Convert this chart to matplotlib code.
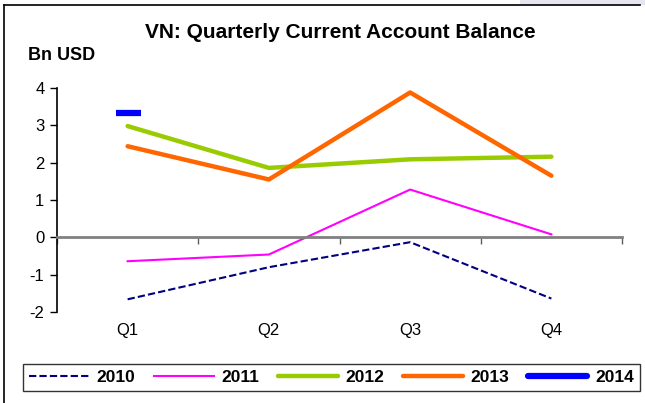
import matplotlib
matplotlib.use("Agg")
import matplotlib.pyplot as plt
import matplotlib.transforms as mtransforms
from matplotlib.lines import Line2D
from matplotlib.patches import Rectangle

plt.rcParams["font.family"] = ["Liberation Sans", "DejaVu Sans"]
plt.rcParams["axes.unicode_minus"] = False

quarters = ["Q1", "Q2", "Q3", "Q4"]
ca_2010 = [-1.66, -0.80, -0.13, -1.64]
ca_2011 = [-0.64, -0.46, 1.28, 0.08]
ca_2012 = [2.98, 1.86, 2.09, 2.16]
ca_2013 = [2.44, 1.55, 3.88, 1.65]
ca_2014 = [3.32]
yticks = [-2, -1, 0, 1, 2, 3, 4]

fig = plt.figure(figsize=(6.45, 4.03), dpi=100)
ax = fig.add_axes([57 / 645, 1 - 312 / 403, 565 / 645, 224 / 403])

x = list(range(1, len(quarters) + 1))
l10, = ax.plot(x, ca_2010, color="#000080", lw=1.5, dashes=(3.5, 1.5), label="2010")
l11, = ax.plot(x, ca_2011, color="#FF00FF", lw=1.5, label="2011")
l12, = ax.plot(x, ca_2012, color="#99CC00", lw=3.2, solid_capstyle="round", label="2012")
l13, = ax.plot(x, ca_2013, color="#FF6600", lw=3.2, solid_capstyle="round", label="2013")
ax.plot(x[:len(ca_2014)], ca_2014, color="#0000FF", lw=0, marker="_", ms=18, mew=4.5)
l14 = Line2D([], [], color="#0000FF", lw=4.5, solid_capstyle="round", label="2014")

ax.set_xlim(0.5, len(quarters) + 0.5)
ax.set_ylim(-2, 4)
ax.set_yticks(yticks)
ax.tick_params(axis="y", direction="out", length=5, width=1, labelsize=12, pad=4)

# category axis crosses at zero; labels sit below the plot area
for s in ["top", "right"]:
    ax.spines[s].set_visible(False)
ax.spines["left"].set_linewidth(1.2)
ax.spines["bottom"].set_position(("data", 0))
ax.spines["bottom"].set_color("#808080")
ax.spines["bottom"].set_linewidth(2)
ax.set_xticks([i + 0.5 for i in range(0, len(quarters) + 1)])
ax.set_xticklabels([])
ax.tick_params(axis="x", direction="out", length=5, width=1, color="#606060")

trans = mtransforms.blended_transform_factory(ax.transData, ax.transAxes)
for xi, q in zip(x, quarters):
    ax.text(xi, -0.05, q, transform=trans, ha="center", va="top", fontsize=12)

fig.text(340 / 645, 1 - 33 / 403, "VN: Quarterly Current Account Balance",
         ha="center", va="center", fontsize=15, fontweight="bold")
fig.text(28 / 645, 1 - 55 / 403, "Bn USD", ha="left", va="center",
         fontsize=13, fontweight="bold")

leg = fig.legend(handles=[l10, l11, l12, l13, l14], ncol=5,
                 bbox_to_anchor=(331.5 / 645, 1 - 377.5 / 403), loc="center",
                 borderaxespad=0, frameon=True, fancybox=False,
                 handlelength=3.45, handletextpad=0.46, columnspacing=1.05,
                 prop={"weight": "bold", "size": 12.5}, borderpad=0.35)
leg.get_frame().set_edgecolor("black")
leg.get_frame().set_linewidth(1.0)

# outer frame (left and top edges) and faint corner shading
fig.add_artist(Line2D([4 / 645, 4 / 645], [0, 1 - 5 / 403], color="black", lw=1.2))
fig.add_artist(Line2D([4 / 645, 640 / 645], [1 - 5 / 403, 1 - 5 / 403], color="black", lw=1.2))
fig.add_artist(Rectangle((520 / 645, 1 - 5 / 403), 125 / 645, 5 / 403,
                         color="#e6e6f0", lw=0))

fig.savefig("out.png", dpi=100)
